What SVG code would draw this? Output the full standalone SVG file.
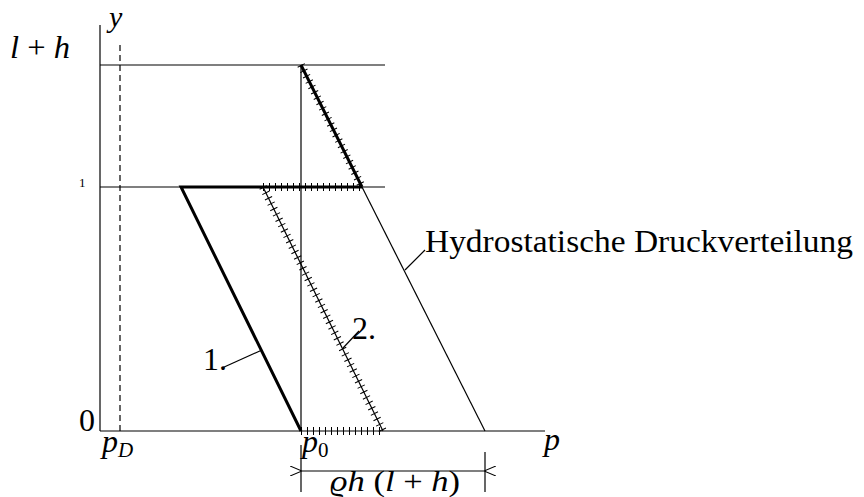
<svg xmlns="http://www.w3.org/2000/svg" width="864" height="497" viewBox="0 0 864 497">
<style>
.t{font-family:"Liberation Serif","DejaVu Serif",serif;fill:#000}
.i{font-style:italic}
.ln{stroke:#000;stroke-width:1.2;fill:none}
.bd{stroke:#000;stroke-width:3;fill:none}
.tk{stroke:#000;stroke-width:8;stroke-dasharray:1 5;fill:none}
</style>
<defs>
<marker id="ar" viewBox="0 0 12 10" refX="0" refY="5" markerWidth="12" markerHeight="10" markerUnits="userSpaceOnUse" orient="auto-start-reverse">
<path d="M12,0 L0,5 L12,10" fill="none" stroke="#000" stroke-width="1.1"/>
</marker>
</defs>
<g id="connectors">
<line class="ln" x1="100" y1="25" x2="100" y2="431"/>
<line class="ln" x1="100" y1="431" x2="545" y2="431"/>
<line class="ln" x1="100" y1="65" x2="385" y2="65"/>
<line class="ln" x1="100" y1="187" x2="385" y2="187"/>
<line class="ln" x1="120" y1="45" x2="120" y2="431" stroke-dasharray="6 4"/>
<line class="ln" x1="301" y1="65" x2="301" y2="431"/>
<line class="ln" x1="362" y1="187" x2="485" y2="431"/>
</g>
<g id="curve1">
<polyline class="bd" points="263,187 181,187 301,431"/>
</g>
<g id="curve2">
<line class="bd" x1="301" y1="65" x2="362" y2="187"/>
<line class="tk" x1="301" y1="65" x2="362" y2="187"/>
<line class="bd" x1="263" y1="187" x2="362" y2="187"/>
<line class="tk" x1="263" y1="187" x2="362" y2="187"/>
<line class="ln" x1="263" y1="187" x2="383" y2="431"/>
<line class="tk" x1="263" y1="187" x2="383" y2="431"/>
<line class="tk" x1="301" y1="431" x2="383" y2="431"/>
</g>
<g id="dimension">
<line class="ln" x1="301" y1="445" x2="301" y2="492"/>
<line class="ln" x1="485" y1="452" x2="485" y2="492"/>
<line class="ln" x1="302" y1="471" x2="484" y2="471" marker-start="url(#ar)" marker-end="url(#ar)"/>
<text class="t" x="330" y="491" font-size="30" textLength="130" lengthAdjust="spacingAndGlyphs"><tspan class="i">ϱh</tspan> (<tspan class="i">l</tspan> + <tspan class="i">h</tspan>)</text>
</g>
<g id="labels">
<text class="t i" x="109" y="27" font-size="30">y</text>
<text class="t" x="10" y="58" font-size="32" textLength="60" lengthAdjust="spacingAndGlyphs"><tspan class="i">l</tspan> + <tspan class="i">h</tspan></text>
<text class="t" x="79" y="187" font-size="13">1</text>
<text class="t" x="79" y="431" font-size="32">0</text>
<text class="t i" x="102" y="452" font-size="32">p<tspan font-size="21" dy="5">D</tspan></text>
<text class="t" x="302" y="452" font-size="32"><tspan class="i">p</tspan><tspan font-size="21" dy="5">0</tspan></text>
<text class="t i" x="544" y="450" font-size="32">p</text>
</g>
<g id="label1">
<text class="t" x="203" y="370" font-size="32">1.</text>
<line class="ln" x1="222" y1="368" x2="262" y2="350"/>
</g>
<g id="label2">
<text class="t" x="352" y="339" font-size="32">2.</text>
<line class="ln" x1="343" y1="348" x2="359" y2="331"/>
</g>
<g id="labelH">
<text class="t" x="425" y="252" font-size="32" textLength="428" lengthAdjust="spacingAndGlyphs">Hydrostatische Druckverteilung</text>
<line class="ln" x1="405" y1="270" x2="425" y2="250"/>
</g>
</svg>
